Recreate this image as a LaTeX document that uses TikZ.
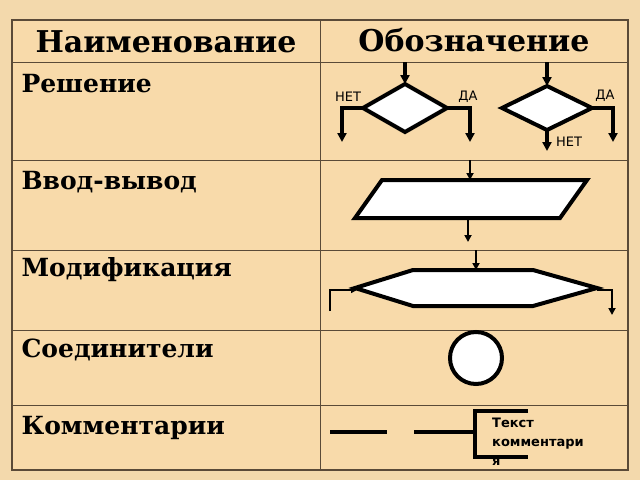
\documentclass[tikz,border=0pt]{standalone}
\usepackage{fontspec}
\setmainfont{DejaVu Serif}
\newfontfamily\lblfont{DejaVu Sans}
\usetikzlibrary{arrows.meta}
\definecolor{bg}{HTML}{F3D9AC}
\definecolor{cell}{HTML}{F8DAAA}
\definecolor{grid}{HTML}{5A4A38}
\begin{document}
\begin{tikzpicture}[x=1pt,y=-1pt,
  fl/.style={line width=4pt,-{Triangle[length=9pt,width=9pt]}},
  fs/.style={line width=2.5pt,-{Triangle[length=7pt,width=7pt]}},
  ln/.style={line width=4pt},
  shp/.style={draw=black,line width=4pt,fill=white,line join=miter},
  hd/.style={font=\fontsize{30}{32}\selectfont\bfseries,anchor=center},
  rw/.style={font=\fontsize{25}{28}\selectfont\bfseries,anchor=west},
  lb/.style={font=\lblfont\fontsize{13}{14}\selectfont}]
\fill[bg] (0,0) rectangle (640,480);
\fill[cell] (12,20) rectangle (628,470);
\draw[grid,line width=2pt] (12,20) rectangle (628,470);
\foreach \yy in {62,160,250,330,405} \draw[grid,line width=0.8pt] (12,\yy) -- (628,\yy);
\draw[grid,line width=0.8pt] (320,20) -- (320,470);
\node[hd] (h1) at (166,42) {Наименование};
\node[hd] (h2) at (474,40) {Обозначение};
\node[rw] (r1) at (18,84) {Решение};
\node[rw] (r2) at (18,182) {Ввод-вывод};
\node[rw] (r3) at (18,270) {Модификация};
\node[rw] (r4) at (18,350) {Соединители};
\node[rw] (r5) at (18,428) {Комментарии};
% decision 1
\draw[shp] (363,108) -- (405,84) -- (447,108) -- (405,132) -- cycle;
\coordinate (d1t) at (405,84); \coordinate (d1l) at (363,108); \coordinate (d1r) at (447,108);
\draw[fl] (405,62) -- (d1t);
\draw[fl] (d1l) -- (342,108) -- (342,142);
\draw[fl] (d1r) -- (470,108) -- (470,142);
\node[lb] (n1) at (348,97) {НЕТ};
\node[lb] (y1) at (468,97) {ДА};
% decision 2
\draw[shp] (502,108) -- (547,86) -- (592,108) -- (547,130) -- cycle;
\coordinate (d2t) at (547,86); \coordinate (d2r) at (592,108); \coordinate (d2b) at (547,130);
\draw[fl] (547,62) -- (d2t);
\draw[fl] (d2r) -- (613,108) -- (613,142);
\draw[fl] (d2b) -- (547,151);
\node[lb] (y2) at (605,96) {ДА};
\node[lb] (n2) at (569,142) {НЕТ};
% io
\draw[shp] (355,218) -- (382,180) -- (587,180) -- (560,218) -- cycle;
\draw[fs] (470,160) -- (470,180);
\draw[fs] (468,220) -- (468,242);
% modification
\draw[shp] (355,288) -- (413,270) -- (533,270) -- (597,288) -- (533,306) -- (413,306) -- cycle;
\draw[fs] (476,250) -- (476,270);
\draw[line width=2.5pt,-{Triangle[length=6pt,width=6pt]}] (330,311) -- (330,290) -- (357,290);
\draw[fs] (597,290) -- (612,290) -- (612,315);
% connector
\draw[shp] (476,358) circle (26);
% comment
\draw[ln] (330,432) -- (387,432);
\draw[ln] (414,432) -- (475,432);
\draw[ln] (528,411) -- (475,411) -- (475,457) -- (528,457);
\node[font=\lblfont\bfseries\fontsize{13}{19}\selectfont,align=left,anchor=north west,inner sep=0pt] (tx) at (492,418) {Текст\\комментари\\я};
\end{tikzpicture}
\end{document}
